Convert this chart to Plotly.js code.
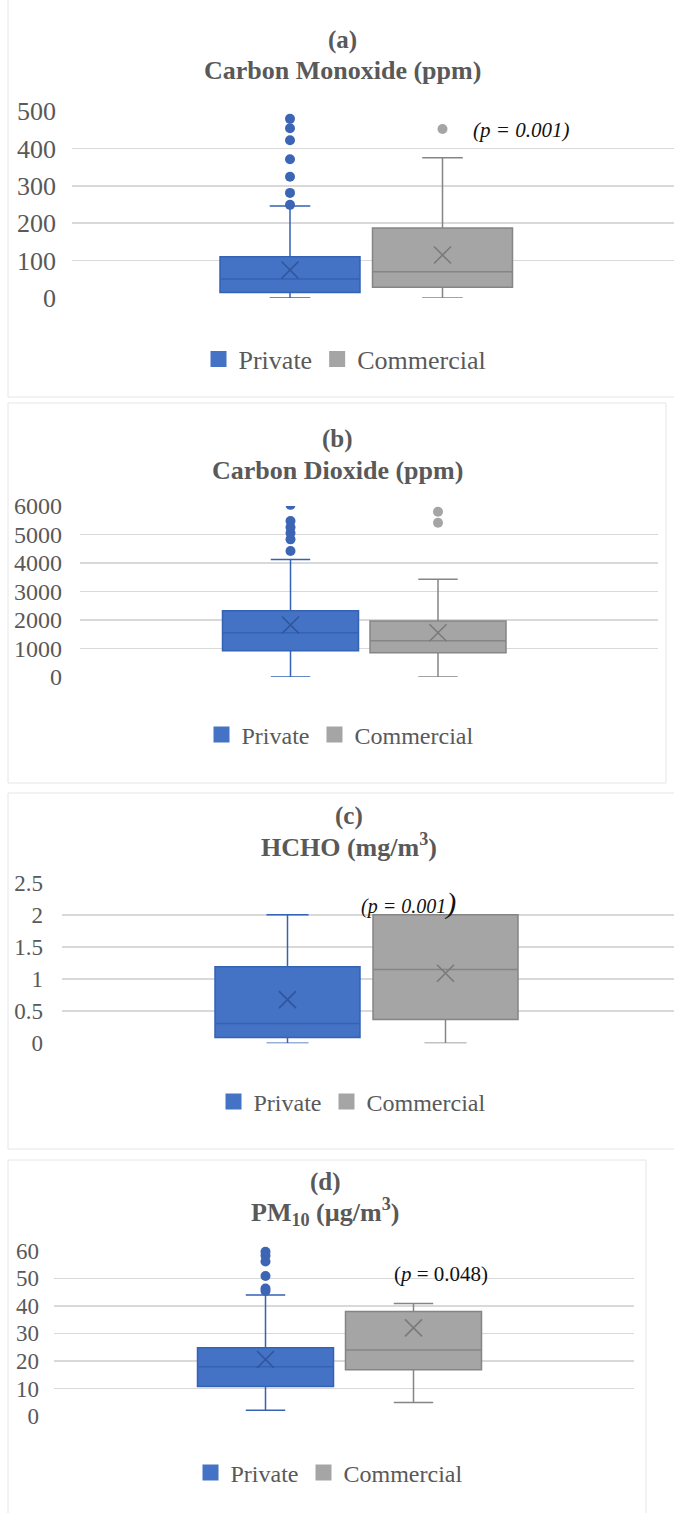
<!DOCTYPE html>
<html><head><meta charset="utf-8">
<script src="https://cdn.plot.ly/plotly-3.0.1.min.js"></script>
<style>html,body{margin:0;padding:0;background:#fff}#chart{width:674px;height:1513px}</style>
</head><body><div id="chart"></div>
<script>
// ---------------- DATA ----------------
const seriesNames = ["Private", "Commercial"];
const panelLetters = ["(a)", "(b)", "(c)", "(d)"];
const panelTitles = ["Carbon Monoxide (ppm)", "Carbon Dioxide (ppm)", "HCHO (mg/m<sup>3</sup>)", "PM<sub>10</sub> (µg/m<sup>3</sup>)"];
const pLabels = ["<i>(p = 0.001)</i>", "", "<i>(p = 0.001</i><span style=\"font-size:30px\"><i>)</i></span>", "(<i>p</i> = 0.048)"];

// (a) Carbon monoxide
const coQ1 = [15, 29];
const coMedian = [51, 70];
const coQ3 = [110, 187];
const coLower = [0, 0];
const coUpper = [246, 375];
const coMean = [75, 115];
const coOutPrivate = [249, 281, 324, 371, 422, 454, 479];
const coOutCommercial = [452];
const coTicks = [0, 100, 200, 300, 400, 500];

// (b) Carbon dioxide
const co2Q1 = [923, 853];
const co2Median = [1554, 1274];
const co2Q3 = [2326, 1965];
const co2Lower = [0, 0];
const co2Upper = [4120, 3428];
const co2Mean = [1825, 1554];
const co2OutPrivate = [4420, 4830, 5050, 5250, 5470, 6040];
const co2OutCommercial = [5414, 5800];
const co2Ticks = [0, 1000, 2000, 3000, 4000, 5000, 6000];

// (c) HCHO
const hchoQ1 = [0.09, 0.37];
const hchoMedian = [0.31, 1.15];
const hchoQ3 = [1.19, 2.0];
const hchoLower = [0, 0];
const hchoUpper = [2.0, 2.0];
const hchoMean = [0.68, 1.09];
const hchoOutPrivate = [];
const hchoOutCommercial = [];
const hchoTicks = [0, 0.5, 1, 1.5, 2, 2.5];

// (d) PM10
const pmQ1 = [10.7, 16.8];
const pmMedian = [17.9, 24];
const pmQ3 = [24.8, 37.9];
const pmLower = [2.1, 4.9];
const pmUpper = [43.9, 40.8];
const pmMean = [20.5, 32];
const pmOutPrivate = [45.4, 46.3, 50.8, 56.1, 58.2, 59.6];
const pmOutCommercial = [];
const pmTicks = [0, 10, 20, 30, 40, 50, 60];

// ---------------- STYLE / GEOMETRY ----------------
const W = 674, H = 1513;
const FONT = 'Liberation Serif';
const fills = ["#4472c4", "#a5a5a5"];
const lines = ["#3462b4", "#858585"];
const meanCols = ["#2f569c", "#7a7a7a"];
const outCols = ["#3d65b5", "#a5a5a5"];

const GEO = [
  {l:72, r:674, t:111, b:298, c:[290,442.5], bw:140, tx:342, ty:[40,70], lx:345, ly:359, tick:26, leg:26, stand:15, frame:[8,-2,676,397], p:[521,130,21], clip:false},
  {l:80, r:658, t:506, b:677, c:[290.5,438], bw:136, tx:337, ty:[439,470], lx:340, ly:735, tick:24, leg:24, stand:17, frame:[8,403,666,783], p:[0,0,20], clip:true},
  {l:62, r:674, t:882.7, b:1043.3, c:[287.5,445.5], bw:145, tx:349, ty:[816,845], lx:352, ly:1102, tick:23, leg:24, stand:18, frame:[8,793,676,1149], p:[408,903,20], clip:false},
  {l:54, r:634, t:1250.7, b:1416, c:[265.5,413.5], bw:136, tx:325, ty:[1182,1212], lx:329, ly:1473, tick:23, leg:24, stand:14, frame:[8,1160,646,1515], p:[441,1274,21], clip:false}
];

const stats = [
  {q1:coQ1, med:coMedian, q3:coQ3, lo:coLower, hi:coUpper, mean:coMean, out:[coOutPrivate, coOutCommercial], ticks:coTicks},
  {q1:co2Q1, med:co2Median, q3:co2Q3, lo:co2Lower, hi:co2Upper, mean:co2Mean, out:[co2OutPrivate, co2OutCommercial], ticks:co2Ticks},
  {q1:hchoQ1, med:hchoMedian, q3:hchoQ3, lo:hchoLower, hi:hchoUpper, mean:hchoMean, out:[hchoOutPrivate, hchoOutCommercial], ticks:hchoTicks},
  {q1:pmQ1, med:pmMedian, q3:pmQ3, lo:pmLower, hi:pmUpper, mean:pmMean, out:[pmOutPrivate, pmOutCommercial], ticks:pmTicks}
];

const px = v => v / W;
const py = v => 1 - v / H;

const traces = [];
const layout = {
  width: W, height: H, margin:{l:0,r:0,t:0,b:0},
  paper_bgcolor:'#fff', plot_bgcolor:'rgba(0,0,0,0)',
  font:{family:FONT, color:'#595959'},
  showlegend:true, annotations:[], shapes:[]
};

GEO.forEach((g, i) => {
  const s = stats[i];
  const n = i === 0 ? '' : String(i + 1);
  const xa = 'x' + n, ya = 'y' + n;
  const lg = 'legend' + n;
  const unit = g.c[1] - g.c[0];
  layout['xaxis' + n] = {
    domain:[px(g.l), px(g.r)], anchor:ya,
    range:[(g.l - g.c[0]) / unit, (g.r - g.c[0]) / unit],
    visible:false, fixedrange:true
  };
  layout['yaxis' + n] = {
    domain:[py(g.b), py(g.t)], anchor:xa,
    range:[s.ticks[0], s.ticks[s.ticks.length - 1]],
    tickvals:s.ticks, ticktext:s.ticks.map(String),
    showgrid:true, gridcolor:'#d9d9d9', gridwidth:1.5,
    zeroline:false, showline:false, ticks:'',
    ticklabelstandoff:g.stand,
    tickfont:{family:FONT, size:g.tick, color:'#595959'},
    fixedrange:true
  };
  for (let k = 0; k < 2; k++) {
    traces.push({
      type:'box', xaxis:xa, yaxis:ya, x:[k],
      q1:[s.q1[k]], median:[s.med[k]], q3:[s.q3[k]],
      lowerfence:[s.lo[k]], upperfence:[s.hi[k]],
      width:g.bw / unit, whiskerwidth:0.29,
      fillcolor:fills[k], line:{color:lines[k], width:1.5},
      boxpoints:false, showlegend:false, hoverinfo:'skip', name:seriesNames[k]
    });
  }
  traces.push({
    type:'scatter', mode:'markers', xaxis:xa, yaxis:ya,
    x:[0, 1], y:s.mean, showlegend:false, hoverinfo:'skip',
    marker:{symbol:'x-thin', size:17, line:{width:1.6, color:meanCols}}
  });
  for (let k = 0; k < 2; k++) {
    if (!s.out[k].length) continue;
    traces.push({
      type:'scatter', mode:'markers', xaxis:xa, yaxis:ya,
      x:s.out[k].map(() => k), y:s.out[k], cliponaxis:g.clip,
      showlegend:false, hoverinfo:'skip',
      marker:{symbol:'circle', size:10, color:outCols[k]}
    });
  }
  for (let k = 0; k < 2; k++) {
    traces.push({
      type:'scatter', mode:'markers', xaxis:xa, yaxis:ya,
      x:[null], y:[null], name:seriesNames[k], legend:lg, showlegend:true,
      marker:{symbol:'square', size:16, color:fills[k]}
    });
  }
  layout[lg] = {
    orientation:'h', x:px(g.lx), xanchor:'center', y:py(g.ly), yanchor:'middle',
    font:{family:FONT, size:g.leg, color:'#595959'}, bgcolor:'rgba(0,0,0,0)',
    itemclick:false, itemdoubleclick:false
  };
  layout.annotations.push({
    xref:'paper', yref:'paper', x:px(g.tx), y:py(g.ty[0]), xanchor:'center', yanchor:'middle',
    text:'<b>' + panelLetters[i] + '</b>', showarrow:false,
    font:{family:FONT, size:25, color:'#595959'}
  });
  layout.annotations.push({
    xref:'paper', yref:'paper', x:px(g.tx), y:py(g.ty[1]), xanchor:'center', yanchor:'middle',
    text:'<b>' + panelTitles[i] + '</b>', showarrow:false,
    font:{family:FONT, size:26, color:'#595959'}
  });
  if (pLabels[i]) {
    layout.annotations.push({
      xref:'paper', yref:'paper', x:px(g.p[0]), y:py(g.p[1]), xanchor:'center', yanchor:'middle',
      text:pLabels[i], showarrow:false,
      font:{family:FONT, size:g.p[2], color:'#111'}
    });
  }
  layout.shapes.push({
    type:'rect', xref:'paper', yref:'paper', layer:'below',
    x0:px(g.frame[0]), x1:px(g.frame[2]), y0:py(g.frame[1]), y1:py(g.frame[3]),
    line:{color:'#e6e6e6', width:1}
  });
});

Plotly.newPlot('chart', traces, layout, {staticPlot:true, displayModeBar:false});
</script>
</body></html>
